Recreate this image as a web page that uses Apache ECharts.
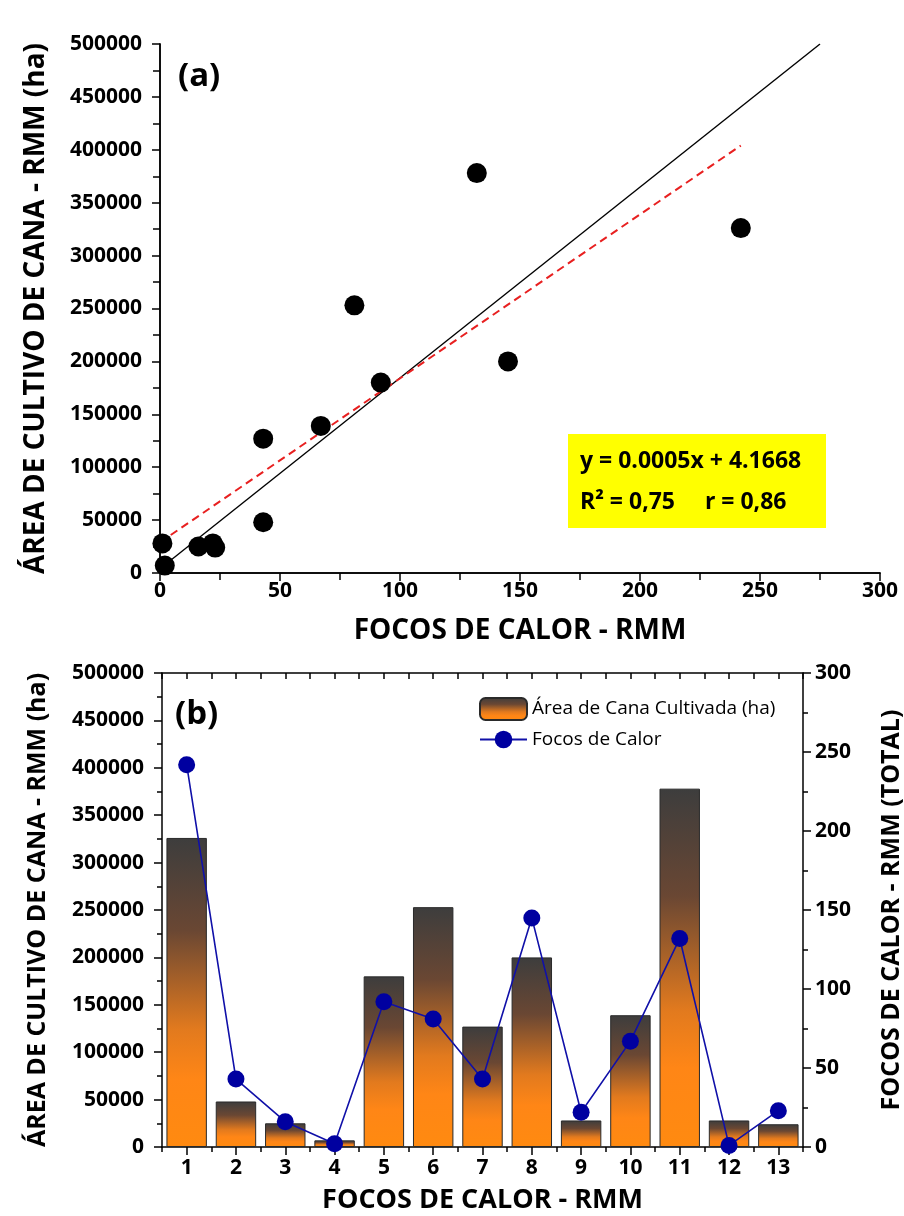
<!DOCTYPE html>
<html><head><meta charset="utf-8">
<script src="https://cdn.jsdelivr.net/npm/echarts@6/dist/echarts.min.js"></script>
<style>html,body{margin:0;padding:0;background:#fff}#c{width:904px;height:1216px}</style>
</head><body><div id="c"></div>
<script>
// ---- data ----
const regions = ['1','2','3','4','5','6','7','8','9','10','11','12','13'];
const areaCana = [326000, 48000, 25000, 7000, 180000, 253000, 127000, 200000, 28000, 139000, 378000, 28000, 24000];
const focosCalor = [242, 43, 16, 2, 92, 81, 43, 145, 22, 67, 132, 1, 23];
const fitSolid = [[0, 4000], [275, 500000]];
const fitDashed = [[0, 29000], [242, 404000]];
const equationLines = ['y = 0.0005x + 4.1668', 'R² = 0,75     r = 0,86'];
const yTitle = 'ÁREA DE CULTIVO DE CANA - RMM (ha)';
const xTitle = 'FOCOS DE CALOR - RMM';
const y2Title = 'FOCOS DE CALOR - RMM (TOTAL)';
const legendNames = ['Área de Cana Cultivada (ha)', 'Focos de Calor'];

const FONT = 'Open Sans';
const scatterData = focosCalor.map((f, i) => [f, areaCana[i]]);
const axisLine = {show: true, lineStyle: {color: '#000', width: 1.5}};
const plain = v => String(v);
const lbl = {color: '#000', fontFamily: FONT, fontWeight: 'bold', fontSize: 21, formatter: plain};
const nameStyle = (s) => ({color: '#000', fontFamily: FONT, fontWeight: 'bold', fontSize: s});
const tk = (inside, len) => ({show: true, inside: inside, length: len, lineStyle: {color: '#000', width: 1.5}});
const mt = {show: true, splitNumber: 2, length: 5, lineStyle: {color: '#000', width: 1.5}};

const chart = echarts.init(document.getElementById('c'), null, {renderer: 'canvas'});
const option = {
  backgroundColor: '#fff',
  animation: false,
  grid: [
    {left: 160, top: 44, width: 720, height: 529, containLabel: false, outerBoundsMode: 'none'},
    {left: 162, top: 673, width: 641, height: 474, containLabel: false, outerBoundsMode: 'none'}
  ],
  xAxis: [
    {gridIndex: 0, type: 'value', min: 0, max: 300, interval: 50, position: 'bottom',
     axisLine: axisLine, axisTick: tk(false, 8), minorTick: mt,
     splitLine: {show: false}, axisLabel: Object.assign({margin: 8}, lbl),
     name: xTitle, nameLocation: 'middle', nameGap: 44, nameTextStyle: nameStyle(28)},
    {gridIndex: 0, type: 'value', min: 0, max: 300, interval: 25, position: 'top',
     axisLine: axisLine, axisTick: tk(true, 7), splitLine: {show: false}, axisLabel: {show: false}},
    {gridIndex: 1, type: 'category', data: regions, position: 'bottom',
     axisLine: axisLine, axisTick: Object.assign(tk(false, 8), {alignWithLabel: true}),
     splitLine: {show: false}, axisLabel: Object.assign({margin: 11}, lbl),
     name: xTitle, nameLocation: 'middle', nameGap: 40, nameTextStyle: nameStyle(27)},
    {gridIndex: 1, type: 'category', data: regions, position: 'bottom',
     axisLine: {show: false}, axisTick: tk(false, 5), splitLine: {show: false}, axisLabel: {show: false}},
    {gridIndex: 1, type: 'value', min: 0.5, max: 13.5, interval: 0.5, position: 'top',
     axisLine: axisLine, axisTick: tk(true, 6), splitLine: {show: false}, axisLabel: {show: false}}
  ],
  yAxis: [
    {gridIndex: 0, type: 'value', min: 0, max: 500000, interval: 50000, position: 'left',
     axisLine: axisLine, axisTick: tk(false, 8), minorTick: mt,
     splitLine: {show: false}, axisLabel: Object.assign({margin: 18}, lbl),
     name: yTitle, nameLocation: 'middle', nameGap: 110, nameTextStyle: nameStyle(28)},
    {gridIndex: 0, type: 'value', min: 0, max: 500000, interval: 25000, position: 'right',
     axisLine: axisLine, axisTick: tk(true, 7), splitLine: {show: false}, axisLabel: {show: false}},
    {gridIndex: 1, type: 'value', min: 0, max: 500000, interval: 50000, position: 'left',
     axisLine: axisLine, axisTick: tk(false, 8), minorTick: mt,
     splitLine: {show: false}, axisLabel: Object.assign({margin: 18}, lbl),
     name: yTitle, nameLocation: 'middle', nameGap: 112, nameTextStyle: nameStyle(25)},
    {gridIndex: 1, type: 'value', min: 0, max: 300, interval: 50, position: 'right',
     axisLine: axisLine, axisTick: tk(false, 8), minorTick: mt,
     splitLine: {show: false}, axisLabel: Object.assign({margin: 12}, lbl),
     name: y2Title, nameLocation: 'middle', nameGap: 76, nameTextStyle: nameStyle(25)}
  ],
  legend: {
    orient: 'vertical', left: 474, top: 692, itemWidth: 47, itemHeight: 22, itemGap: 9,
    textStyle: {color: '#000', fontFamily: FONT, fontSize: 19},
    data: legendNames
  },
  graphic: [
    {type: 'text', left: 178, top: 60, style: {text: '(a)', fontFamily: FONT, fontWeight: 'bold', fontSize: 33, fill: '#000'}},
    {type: 'text', left: 175, top: 698, style: {text: '(b)', fontFamily: FONT, fontWeight: 'bold', fontSize: 33, fill: '#000'}},
    {type: 'rect', left: 568, top: 434, shape: {width: 258, height: 94}, style: {fill: '#ffff00'}, z: 5},
    {type: 'text', left: 580, top: 450, z: 6, style: {text: equationLines[0], fontFamily: FONT, fontWeight: 'bold', fontSize: 23, fill: '#000'}},
    {type: 'text', left: 580, top: 491, z: 6, style: {text: equationLines[1], fontFamily: FONT, fontWeight: 'bold', fontSize: 23, fill: '#000'}}
  ],
  series: [
    {type: 'line', xAxisIndex: 0, yAxisIndex: 0, data: fitSolid, showSymbol: false, symbol: 'none',
     lineStyle: {color: '#000', width: 1.4}, z: 2, silent: true},
    {type: 'line', xAxisIndex: 0, yAxisIndex: 0, data: fitDashed, showSymbol: false, symbol: 'none',
     lineStyle: {color: '#e82020', width: 2, type: [8, 5]}, z: 2, silent: true},
    {type: 'scatter', xAxisIndex: 0, yAxisIndex: 0, data: scatterData, symbol: 'circle', symbolSize: 20,
     itemStyle: {color: '#000', opacity: 1}, z: 3},
    {name: legendNames[0], type: 'bar', xAxisIndex: 2, yAxisIndex: 2, data: areaCana, barWidth: '82%',
     itemStyle: {
       borderColor: '#2a2a2a', borderWidth: 1,
       color: new echarts.graphic.LinearGradient(0, 0, 0, 1, [
         {offset: 0, color: '#3d3d3d'},
         {offset: 0.3, color: '#6a4733'},
         {offset: 0.62, color: '#e27a1e'},
         {offset: 0.78, color: '#ff8616'},
         {offset: 1, color: '#ff8a10'}
       ])
     }, z: 2},
    {name: legendNames[1], type: 'line', xAxisIndex: 2, yAxisIndex: 3, data: focosCalor,
     symbol: 'circle', symbolSize: 17, lineStyle: {color: '#1010a8', width: 1.6},
     itemStyle: {color: '#0000a0', opacity: 1}, z: 3}
  ]
};
chart.setOption(option);
</script>
</body></html>
